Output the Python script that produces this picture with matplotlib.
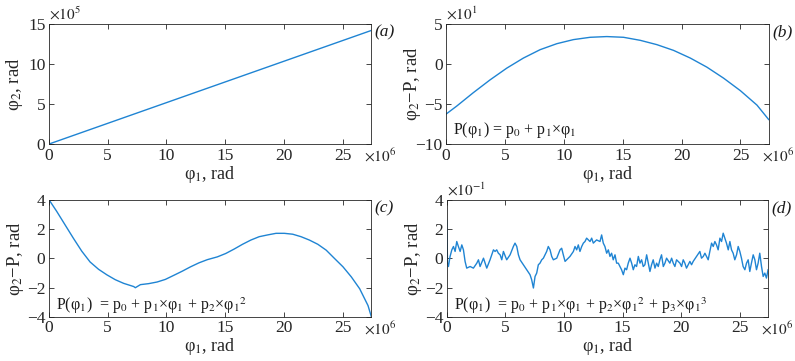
import numpy as np
import matplotlib
matplotlib.use("Agg")
from matplotlib import pyplot as plt

plt.rcParams['font.family'] = ['Liberation Serif', 'DejaVu Serif']
plt.rcParams['mathtext.fontset'] = 'stix'

# phi1 in units of 1e6 rad
XMAX = 27.4

# (a) phi2 in units of 1e5 rad
a_x = [0.0, 27.4]
a_y = [0.0, 14.2]

# (b) residual after linear fit, units of 1e1 rad
b_x = [0.0, 0.91, 2.32, 3.74, 5.16, 6.57, 7.99, 9.41, 10.82, 12.24, 13.65,
       15.07, 16.49, 17.90, 19.32, 20.74, 22.15, 23.57, 24.99, 26.40, 27.39]
b_y = [-6.26, -5.25, -3.57, -1.97, -0.50, 0.76, 1.81, 2.56, 3.07, 3.36, 3.45,
       3.36, 2.98, 2.44, 1.72, 0.76, -0.38, -1.76, -3.32, -5.13, -6.93]

# (c) residual after quadratic fit, rad
c_x = [0.0, 0.66, 1.37, 2.08, 2.79, 3.50, 4.22, 4.93, 5.64, 6.35, 7.21, 7.35,
       7.78, 8.49, 9.20, 9.91, 10.63, 11.34, 12.05, 12.76, 13.48, 14.33, 15.04,
       15.75, 16.47, 17.18, 17.89, 18.60, 19.32, 20.03, 20.74, 21.45, 22.16,
       22.88, 23.59, 24.30, 25.02, 25.73, 26.44, 27.15, 27.44]
c_y = [4.02, 3.22, 2.30, 1.38, 0.50, -0.24, -0.74, -1.12, -1.45, -1.70, -1.92,
       -2.00, -1.79, -1.72, -1.61, -1.43, -1.15, -0.87, -0.57, -0.30, -0.08,
       0.11, 0.34, 0.64, 0.97, 1.26, 1.49, 1.61, 1.72, 1.72, 1.66, 1.49, 1.26,
       0.97, 0.57, 0.0, -0.57, -1.26, -2.07, -3.22, -4.0]

# (d) residual after cubic fit, units of 1e-1 rad
d_x = [0.0, 0.06, 0.14, 0.28, 0.43, 0.57, 0.71, 0.85, 0.99, 1.14, 1.28, 1.42,
       1.56, 1.70, 1.99, 2.27, 2.56, 2.70, 2.84, 3.13, 3.27, 3.41, 3.69, 3.98,
       4.12, 4.26, 4.40, 4.55, 4.69, 4.83, 5.11, 5.40, 5.68, 5.82, 5.97, 6.11,
       6.25, 6.53, 6.82, 7.10, 7.24, 7.39, 7.53, 7.67, 7.81, 7.95, 8.10, 8.24,
       8.52, 8.66, 8.81, 8.95, 9.09, 9.38, 9.66, 9.80, 9.94, 10.09, 10.23,
       10.51, 10.80, 10.94, 11.08, 11.22, 11.36, 11.51, 11.65, 11.79, 11.93,
       12.22, 12.36, 12.50, 12.78, 13.07, 13.21, 13.35, 13.49, 13.64, 13.78,
       13.92, 14.06, 14.20, 14.35, 14.49, 14.63, 14.77, 14.91, 15.06, 15.20,
       15.34, 15.48, 15.63, 15.77, 15.91, 16.05, 16.19, 16.34, 16.48, 16.62,
       16.76, 16.90, 17.05, 17.19, 17.33, 17.47, 17.61, 17.76, 17.90, 18.04,
       18.18, 18.32, 18.47, 18.61, 18.75, 19.03, 19.18, 19.32, 19.46, 19.60,
       19.89, 20.03, 20.17, 20.31, 20.45, 20.74, 20.88, 21.02, 21.31, 21.59,
       21.73, 21.88, 22.02, 22.16, 22.30, 22.44, 22.59, 22.73, 22.87, 23.01,
       23.15, 23.30, 23.44, 23.58, 23.72, 23.86, 24.01, 24.15, 24.29, 24.43,
       24.57, 24.72, 24.86, 25.00, 25.14, 25.28, 25.43, 25.57, 25.71, 25.85,
       25.99, 26.14, 26.28, 26.42, 26.56, 26.70, 26.85, 26.99, 27.13, 27.27,
       27.41]
d_y = [2.6, -0.3, -0.55, 0.14, 0.59, 0.82, 0.48, 1.16, 0.82, 0.48, 0.93, 0.59,
       -0.20, -0.66, -0.55, -0.66, -0.32, -0.09, -0.55, 0.02, -0.32, -0.66,
       -0.09, 0.59, 0.48, 0.59, 0.36, 0.25, -0.09, 0.48, -0.09, 0.25, 0.82,
       1.05, 0.82, 0.25, -0.09, -0.43, -0.77, -1.11, -1.45, -2.02, -1.23, -1.00,
       -0.43, -0.32, -0.09, 0.02, 0.48, 0.82, 0.59, 0.14, -0.09, 0.02, 0.59,
       0.70, 0.25, -0.20, -0.09, 0.14, 0.48, 0.82, 0.59, 0.93, 0.48, 0.82, 1.05,
       1.16, 1.39, 1.16, 1.39, 1.05, 1.27, 1.16, 1.61, 1.05, 0.82, 0.36, 0.59,
       0.14, 0.36, -0.09, 0.25, -0.32, -0.32, -0.55, -0.77, -1.11, -0.66, -0.77,
       -0.32, 0.02, -0.32, -0.77, -0.43, -0.55, 0.14, -0.32, -0.09, -0.55, -0.43,
       0.25, -0.32, -0.89, -0.43, -0.09, -0.66, -0.32, -0.55, -0.09, 0.25, -0.55,
       -0.32, 0.02, -0.32, 0.02, -0.32, -0.55, -0.09, -0.32, -0.55, -0.09, -0.32,
       -0.66, -0.20, -0.43, -0.20, 0.14, 0.48, 0.02, 0.14, 0.36, 0.14, -0.09,
       0.48, 1.05, 0.82, 1.16, 0.93, 0.59, 1.39, 1.16, 1.73, 1.39, 1.05, 0.59,
       1.16, 0.59, 0.36, -0.09, 0.25, 0.82, 0.48, 0.02, -0.55, -0.77, -0.32,
       -0.09, -0.89, -0.32, 0.25, -0.09, -0.77, -0.32, 0.36, -0.55, -1.23, -1.00,
       -1.34, -0.77]

LINE = '#1f84d3'
TXT = '#262626'

fig = plt.figure(figsize=(7.95, 3.61), dpi=100)
axa = fig.add_axes([0.0616, 0.601, 0.405, 0.332])
axb = fig.add_axes([0.561, 0.601, 0.406, 0.332])
axc = fig.add_axes([0.0616, 0.122, 0.405, 0.324])
axd = fig.add_axes([0.562, 0.122, 0.404, 0.324])

panels = [
    (axa, a_x, a_y, (0, 15), [0, 5, 10, 15], r'$\times10^{5}$',
     'φ$_2$, rad', '(a)', None, -0.075, 0.12),
    (axb, b_x, b_y, (-10, 5), [-10, -5, 0, 5], r'$\times10^{1}$',
     'φ$_2$−P, rad', '(b)', 'P(φ$_1$) = p$_0$ + p$_1$×φ$_1$', -0.07, 0.12),
    (axc, c_x, c_y, (-4, 4), [-4, -2, 0, 2, 4], None,
     'φ$_2$−P, rad', '(c)',
     'P(φ$_1$)  = p$_0$ + p$_1$×φ$_1$ + p$_2$×φ$_1$$^2$', -0.07, 0.10),
    (axd, d_x, d_y, (-4, 4), [-4, -2, 0, 2, 4], r'$\times10^{-1}$',
     'φ$_2$−P, rad', '(d)',
     'P(φ$_1$)  = p$_0$ + p$_1$×φ$_1$ + p$_2$×φ$_1$$^2$ + p$_3$×φ$_1$$^3$',
     -0.07, 0.10),
]

for ax, xs, ys, ylim, yt, ymult, ylab, tag, formula, ylx, fy in panels:
    ax.plot(xs, ys, color=LINE, lw=1.0)
    ax.set_xlim(0, XMAX)
    ax.set_ylim(*ylim)
    ax.set_xticks([0, 5, 10, 15, 20, 25])
    ax.set_yticks(yt)
    ax.set_yticklabels([str(v).replace('-', '−') for v in yt])
    ax.tick_params(direction='in', top=True, right=True, length=3.5,
                   width=0.6, labelsize=12.5, colors=TXT, pad=2.5)
    for s in ax.spines.values():
        s.set_linewidth(0.6)
        s.set_color(TXT)
    ax.set_xlabel('φ$_1$, rad', fontsize=13, labelpad=0, color=TXT)
    ax.set_ylabel(ylab, fontsize=13.5, color=TXT)
    ax.yaxis.set_label_coords(ylx, 0.5)
    ax.text(0.978, -0.025, r'$\times10^{6}$', transform=ax.transAxes,
            ha='left', va='top', fontsize=11, color=TXT)
    if ymult:
        ax.text(0.0, 1.01, ymult, transform=ax.transAxes,
                ha='left', va='bottom', fontsize=11, color=TXT)
    ax.text(1.012, 0.93, tag, transform=ax.transAxes, ha='left', va='center',
            fontsize=12.5, style='italic', color='#1a1a1a')
    if formula:
        ax.text(0.022, fy, formula, transform=ax.transAxes, ha='left',
                va='center', fontsize=11.5, color='#1a1a1a')

fig.savefig('out.png', dpi=100, facecolor='white')
